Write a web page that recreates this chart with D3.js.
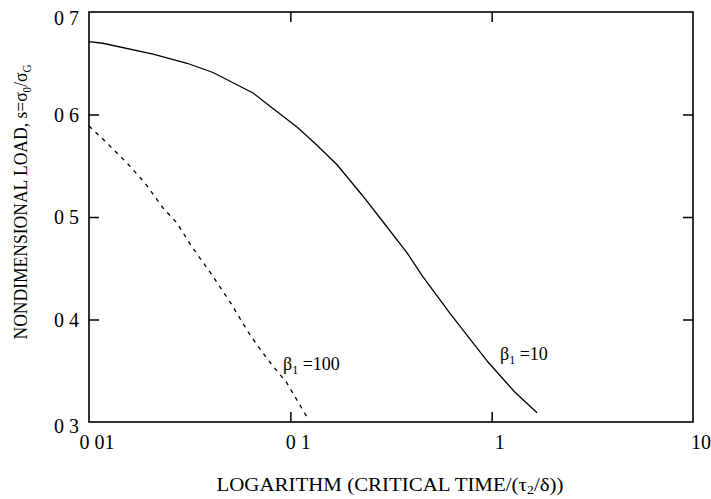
<!DOCTYPE html>
<html>
<head>
<meta charset="utf-8">
<script src="https://cdn.jsdelivr.net/npm/d3@7"></script>
<style>
  body { margin: 0; background: #fff; }
  text { font-family: "Liberation Serif", "Times New Roman", serif; fill: #000; }
</style>
</head>
<body>
<div id="chart"></div>
<script>
// beta1 = 10 (solid)
var xBeta10 = [0.01, 0.0117, 0.0208, 0.0307, 0.0413, 0.0653, 0.0793, 0.109, 0.1357, 0.1706,
               0.227, 0.279, 0.380, 0.456, 0.621, 0.959, 1.306, 1.68];
var yBeta10 = [0.671, 0.6695, 0.659, 0.650, 0.641, 0.621, 0.608, 0.587, 0.570, 0.551,
               0.5215, 0.499, 0.465, 0.4415, 0.406, 0.3585, 0.329, 0.309];

// beta1 = 100 (dashed)
var xBeta100 = [0.01, 0.0120, 0.01544, 0.01897, 0.02331, 0.02735, 0.0325, 0.0399, 0.0502,
                0.0631, 0.0775, 0.0962, 0.121];
var yBeta100 = [0.5888, 0.5741, 0.5527, 0.5332, 0.5088, 0.4941, 0.4707, 0.4463, 0.4171,
                0.3849, 0.3605, 0.338, 0.3049];

// tick values and their printed labels
var xTicks = [0.01, 0.1, 1, 10];
var xTickLabels = ["0 01", "0 1", "1", "10"];
var yTicks = [0.3, 0.4, 0.5, 0.6, 0.7];
var yTickLabels = ["0 3", "0 4", "0 5", "0 6", "0 7"];

// curve labels
var curveLabels = [
  {x: 0.092, y: 0.3507, text: "=100"},
  {x: 1.10, y: 0.3605, text: "=10"}
];

var svgWidth = 711, svgHeight = 499;
var margin = {top: 12, right: 18, bottom: 77, left: 89};
var width = svgWidth - margin.left - margin.right;
var height = svgHeight - margin.top - margin.bottom;

var svg = d3.select("#chart").append("svg")
  .attr("width", svgWidth)
  .attr("height", svgHeight);

var g = svg.append("g")
  .attr("transform", `translate(${margin.left}, ${margin.top})`);

var x = d3.scaleLog().domain([0.01, 10]).range([0, width]);
var y = d3.scaleLinear().domain([0.3, 0.7]).range([height, 0]);

// frame
g.append("rect")
  .attr("width", width)
  .attr("height", height)
  .attr("fill", "none")
  .attr("stroke", "#000")
  .attr("stroke-width", 1.6);

// inward ticks on all four sides (inner values only)
var tickLen = 10;
var innerX = xTicks.slice(1, -1);
var innerY = yTicks.slice(1, -1);

g.append("g").call(d3.axisTop(x).tickValues(innerX).tickSize(tickLen).tickFormat(""))
  .attr("transform", `translate(0, ${height})`);
g.append("g").call(d3.axisBottom(x).tickValues(innerX).tickSize(tickLen).tickFormat(""));
g.append("g").call(d3.axisRight(y).tickValues(innerY).tickSize(tickLen).tickFormat(""));
g.append("g").call(d3.axisLeft(y).tickValues(innerY).tickSize(tickLen).tickFormat(""))
  .attr("transform", `translate(${width}, 0)`);

g.selectAll(".domain").remove();
g.selectAll(".tick line").attr("stroke", "#000").attr("stroke-width", 1.5);

// tick labels
g.selectAll("text.xlab").data(xTicks).enter()
  .append("text")
  .attr("class", "xlab")
  .attr("x", d => x(d) + 8)
  .attr("y", height + 27)
  .attr("text-anchor", "middle")
  .attr("font-size", 20)
  .text((d, i) => xTickLabels[i]);

g.selectAll("text.ylab").data(yTicks).enter()
  .append("text")
  .attr("class", "ylab")
  .attr("x", -10)
  .attr("y", d => y(d) + 7 + (d === 0.7 ? 6 : d === 0.3 ? 4 : 0))
  .attr("text-anchor", "end")
  .attr("font-size", 20)
  .text((d, i) => yTickLabels[i]);

// curves
var line = d3.line()
  .x(d => x(d[0]))
  .y(d => y(d[1]));

g.append("path")
  .datum(d3.zip(xBeta10, yBeta10))
  .attr("d", line)
  .attr("fill", "none")
  .attr("stroke", "#000")
  .attr("stroke-width", 1.3);

g.append("path")
  .datum(d3.zip(xBeta100, yBeta100))
  .attr("d", line)
  .attr("fill", "none")
  .attr("stroke", "#000")
  .attr("stroke-width", 1.3)
  .attr("stroke-dasharray", "4,5");

// beta labels
var lab = g.selectAll("text.curve").data(curveLabels).enter()
  .append("text")
  .attr("class", "curve")
  .attr("x", d => x(d.x))
  .attr("y", d => y(d.y))
  .attr("font-size", 18);
lab.append("tspan").text("\u03b2");
lab.append("tspan").attr("font-size", 12).attr("dy", 4).text("1");
lab.append("tspan").attr("dy", -4).text(d => " " + d.text);

// axis titles
svg.append("text")
  .attr("x", 390)
  .attr("y", 491)
  .attr("text-anchor", "middle")
  .attr("font-size", 18)
  .attr("textLength", 347)
  .attr("lengthAdjust", "spacingAndGlyphs")
  .html("LOGARITHM (CRITICAL TIME/(\u03c4<tspan font-size='12' dy='3'>2</tspan><tspan dy='-3'>/\u03b4))</tspan>");

svg.append("text")
  .attr("transform", "translate(27, 202) rotate(-90)")
  .attr("text-anchor", "middle")
  .attr("font-size", 19)
  .attr("textLength", 275)
  .attr("lengthAdjust", "spacingAndGlyphs")
  .html("NONDIMENSIONAL LOAD, s=\u03c3<tspan font-size='12' dy='4'>0</tspan><tspan dy='-4'>/\u03c3</tspan><tspan font-size='12' dy='4'>G</tspan>");
</script>
</body>
</html>
